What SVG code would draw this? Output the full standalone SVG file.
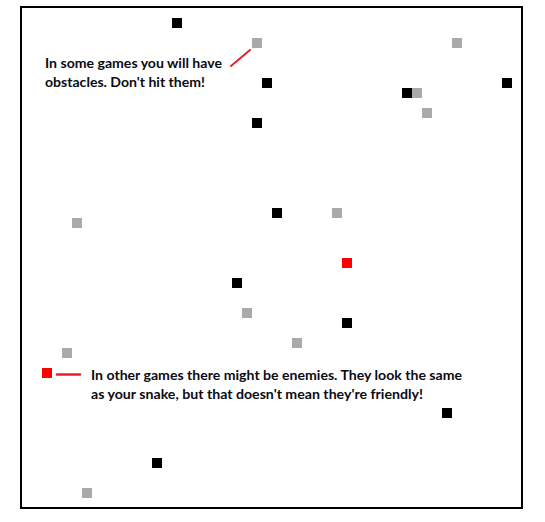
<svg xmlns="http://www.w3.org/2000/svg" width="545" height="522" viewBox="0 0 545 522">
<style>
.blk{fill:#000}
.gry{fill:#aaaaaa}
.red{fill:#ff0000}
.lbl{font-family:Lato,"Liberation Sans",sans-serif;font-weight:bold;font-size:13.5px;fill:#0a0a14}
.con{stroke:#e8202a;fill:none;stroke-linecap:round}
</style>
<rect x="0" y="0" width="545" height="522" fill="#fff"/>
<rect id="board" x="21" y="7" width="501" height="501" fill="none" stroke="#000" stroke-width="2"/>
<g id="obstacles">
<rect class="blk" x="172" y="18" width="10" height="10"/>
<rect class="blk" x="262" y="78" width="10" height="10"/>
<rect class="blk" x="252" y="118" width="10" height="10"/>
<rect class="blk" x="402" y="88" width="10" height="10"/>
<rect class="blk" x="502" y="78" width="10" height="10"/>
<rect class="blk" x="272" y="208" width="10" height="10"/>
<rect class="blk" x="232" y="278" width="10" height="10"/>
<rect class="blk" x="342" y="318" width="10" height="10"/>
<rect class="blk" x="442" y="408" width="10" height="10"/>
<rect class="blk" x="152" y="458" width="10" height="10"/>
</g>
<g id="food">
<rect class="gry" x="252" y="38" width="10" height="10"/>
<rect class="gry" x="452" y="38" width="10" height="10"/>
<rect class="gry" x="412" y="88" width="10" height="10"/>
<rect class="gry" x="422" y="108" width="10" height="10"/>
<rect class="gry" x="72" y="218" width="10" height="10"/>
<rect class="gry" x="332" y="208" width="10" height="10"/>
<rect class="gry" x="242" y="308" width="10" height="10"/>
<rect class="gry" x="292" y="338" width="10" height="10"/>
<rect class="gry" x="62" y="348" width="10" height="10"/>
<rect class="gry" x="82" y="488" width="10" height="10"/>
</g>
<g id="enemy">
<rect class="red" x="342" y="258" width="10" height="10"/>
</g>
<g id="enemy-legend">
<rect class="red" x="42" y="368" width="10" height="10"/>
</g>
<g id="connectors">
<line class="con" x1="231" y1="66" x2="250" y2="50" stroke-width="2"/>
<line class="con" x1="57" y1="374.5" x2="80" y2="374.5" stroke-width="2.6" stroke-linecap="butt"/>
</g>
<g id="note-obstacles">
<text class="lbl" x="45" y="68" textLength="177" lengthAdjust="spacingAndGlyphs">In some games you will have</text>
<text class="lbl" x="45" y="86.5" textLength="160" lengthAdjust="spacingAndGlyphs">obstacles. Don't hit them!</text>
</g>
<g id="note-enemies">
<text class="lbl" x="91" y="380" textLength="371" lengthAdjust="spacingAndGlyphs">In other games there might be enemies. They look the same</text>
<text class="lbl" x="91" y="398.5" textLength="332" lengthAdjust="spacingAndGlyphs">as your snake, but that doesn't mean they're friendly!</text>
</g>
</svg>
